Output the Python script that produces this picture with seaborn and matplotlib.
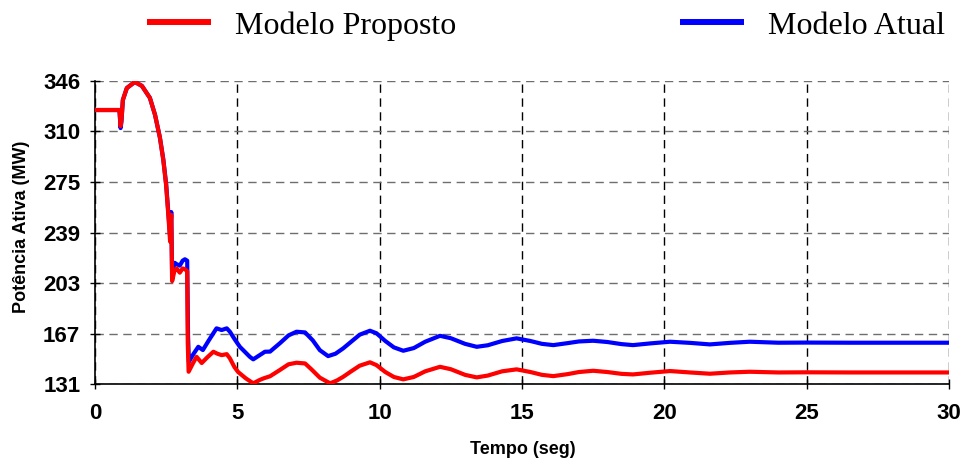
import numpy as np
import pandas as pd
import matplotlib
matplotlib.use("Agg")
import matplotlib.pyplot as plt
from matplotlib.lines import Line2D
import seaborn as sns

# ---------------- data ----------------
t_red = [0, 0.86, 0.90, 0.93, 0.98, 1.12, 1.40, 1.65, 1.93, 2.11, 2.28, 2.40, 2.50, 2.58,
         2.64, 2.68, 2.71, 2.80, 2.87, 2.98, 3.08, 3.16, 3.24, 3.26, 3.29, 3.45, 3.57, 3.75,
         3.95, 4.16, 4.30, 4.45, 4.63, 4.74, 4.90, 5.03, 5.30, 5.56, 5.80, 5.95, 6.15, 6.50,
         6.80, 7.08, 7.38, 7.60, 7.90, 8.26, 8.50, 8.72, 9.00, 9.30, 9.66, 9.89, 10.20, 10.50,
         10.83, 11.20, 11.60, 12.12, 12.50, 13.00, 13.41, 13.80, 14.30, 14.81, 15.30, 15.70,
         16.10, 16.60, 17.00, 17.50, 18.00, 18.50, 18.90, 19.50, 20.20, 20.90, 21.60, 22.30,
         23.00, 24.00, 25.00, 26.50, 28.00, 30.00]
p_red = [325.4, 325.4, 314, 318, 332.5, 341, 345.3, 342.5, 334, 322, 306, 290, 272, 250,
         232, 251, 204, 212, 213, 210, 213, 212.5, 211, 160, 139.7, 146, 150.3, 145.9,
         150, 153.9, 152.5, 151.5, 152.2, 149.2, 143, 139.5, 135, 131.5, 134, 135.2, 136.5, 141,
         145, 146.1, 145.6, 141.5, 135.5, 131.5, 133.5, 136.1, 140, 144, 146.4, 144.4, 139.5, 136,
         134.3, 136, 140, 143.2, 141.5, 137.5, 135.7, 137, 140, 141.4, 139.5, 137.5,
         136.6, 138, 139.5, 140.4, 139.5, 138.2, 137.8, 139, 140.2, 139.2, 138.3, 139.2,
         139.7, 139.2, 139.3, 139.2, 139.2, 139.2]

t_blue = [0, 0.86, 0.90, 0.93, 0.98, 1.12, 1.40, 1.65, 1.93, 2.11, 2.28, 2.40, 2.50, 2.58,
          2.64, 2.68, 2.71, 2.80, 2.87, 2.98, 3.08, 3.16, 3.24, 3.27, 3.30, 3.45, 3.63, 3.79,
          4.00, 4.27, 4.45, 4.63, 4.74, 4.90, 5.09, 5.44, 5.56, 5.75, 5.97, 6.15, 6.50, 6.80,
          7.08, 7.38, 7.65, 7.90, 8.19, 8.45, 8.72, 9.00, 9.30, 9.66, 9.89, 10.20, 10.50, 10.83,
          11.20, 11.60, 12.12, 12.50, 13.00, 13.41, 13.80, 14.30, 14.81, 15.30, 15.70, 16.10,
          16.60, 17.00, 17.50, 18.00, 18.50, 18.90, 19.50, 20.20, 20.90, 21.60, 22.30, 23.00,
          24.00, 25.00, 26.50, 28.00, 30.00]
p_blue = [325.4, 325.4, 312.6, 317, 332.5, 341, 345.3, 342.5, 334, 322, 306, 290.5, 273, 252,
          236, 253, 210, 217, 216, 215, 218.5, 219.5, 218.5, 165, 146.8, 152, 157.4, 155.1,
          162, 170.5, 169.3, 170.5, 168.1, 163, 157.4, 150.3, 148.5, 151, 153.9, 154, 160, 165.5,
          168.1, 167.6, 162, 155, 150.8, 152.5, 156.3, 161, 166, 168.8, 167, 161.5, 157, 154.6,
          156.5, 161, 165.2, 163.5, 159.5, 157.4, 158.5, 161.5, 163.4, 161.5, 159.5, 158.6,
          160, 161.2, 161.7, 160.8, 159.3, 158.6, 159.8, 161, 160.2, 159.1, 160.2, 161,
          160.3, 160.4, 160.3, 160.3, 160.3]

series_names = ["Modelo Proposto", "Modelo Atual"]
y_tick_labels = ["131", "167", "203", "239", "275", "310", "346"]
x_ticks = [0, 5, 10, 15, 20, 25, 30]
x_label = "Tempo (seg)"
y_label = "Potência Ativa (MW)"

# ---------------- figure ----------------
sns.set_theme(style="white")
plt.rcParams["font.family"] = ["Liberation Sans", "DejaVu Sans"]
plt.rcParams["text.color"] = "black"
plt.rcParams["axes.labelcolor"] = "black"
plt.rcParams["xtick.color"] = "black"
plt.rcParams["ytick.color"] = "black"

fig = plt.figure(figsize=(9.66, 4.62), dpi=100)
ax = fig.add_axes([0.0983, 0.1688, 0.8841, 0.6559])

df_blue = pd.DataFrame({"t": t_blue, "p": p_blue})
df_red = pd.DataFrame({"t": t_red, "p": p_red})
sns.lineplot(data=df_blue, x="t", y="p", ax=ax, color="#0000FF", lw=3.0,
             estimator=None, sort=False, zorder=3)
sns.lineplot(data=df_red, x="t", y="p", ax=ax, color="#FF0000", lw=3.0,
             estimator=None, sort=False, zorder=4)

ax.set_xlim(0, 30)
ax.set_ylim(131, 346)
yt = np.linspace(131, 346, 7)
ax.set_yticks(yt)
ax.set_yticklabels(y_tick_labels)
ax.set_xticks(x_ticks)
ax.set_xticklabels([str(v) for v in x_ticks])

for lab in ax.get_xticklabels() + ax.get_yticklabels():
    lab.set_fontweight("bold")
    lab.set_fontsize(16)
    lab.set_color("black")

ax.tick_params(axis="both", direction="inout", length=7, width=1.0, color="black")
ax.tick_params(axis="y", pad=7, left=True)
ax.tick_params(axis="x", pad=10, bottom=True)

# grid
ax.yaxis.grid(True, color="#6e6e6e", linestyle=(0, (6, 4)), linewidth=1.0)
ax.xaxis.grid(True, color="black", linestyle=(0, (6, 4)), linewidth=1.0)
ax.set_axisbelow(True)

for s in ["top", "right"]:
    ax.spines[s].set_visible(False)
for s in ["left", "bottom"]:
    ax.spines[s].set_color("black")
    ax.spines[s].set_linewidth(1.2)

ax.set_xlabel(x_label, fontsize=13, fontweight="bold", color="black")
ax.set_ylabel(y_label, fontsize=13, fontweight="bold", color="black")
ax.xaxis.label.set_va("center")
ax.yaxis.label.set_va("center")
ax.xaxis.set_label_coords(0.501, -0.215)
ax.yaxis.set_label_coords(-0.086, 0.52)

handles = [Line2D([], [], color="#FF0000", lw=4.3, solid_capstyle="butt"),
           Line2D([], [], color="#0000FF", lw=4.3, solid_capstyle="butt")]
leg = fig.legend(handles, series_names, loc="center", bbox_to_anchor=(0.565, 0.944),
                 ncol=2, frameon=False,
                 prop={"family": ["Liberation Serif", "DejaVu Serif"], "size": 23},
                 handlelength=2.0, handletextpad=0.75, columnspacing=7.0)
for txt in leg.get_texts():
    txt.set_color("black")

fig.savefig("out.png", dpi=100)
